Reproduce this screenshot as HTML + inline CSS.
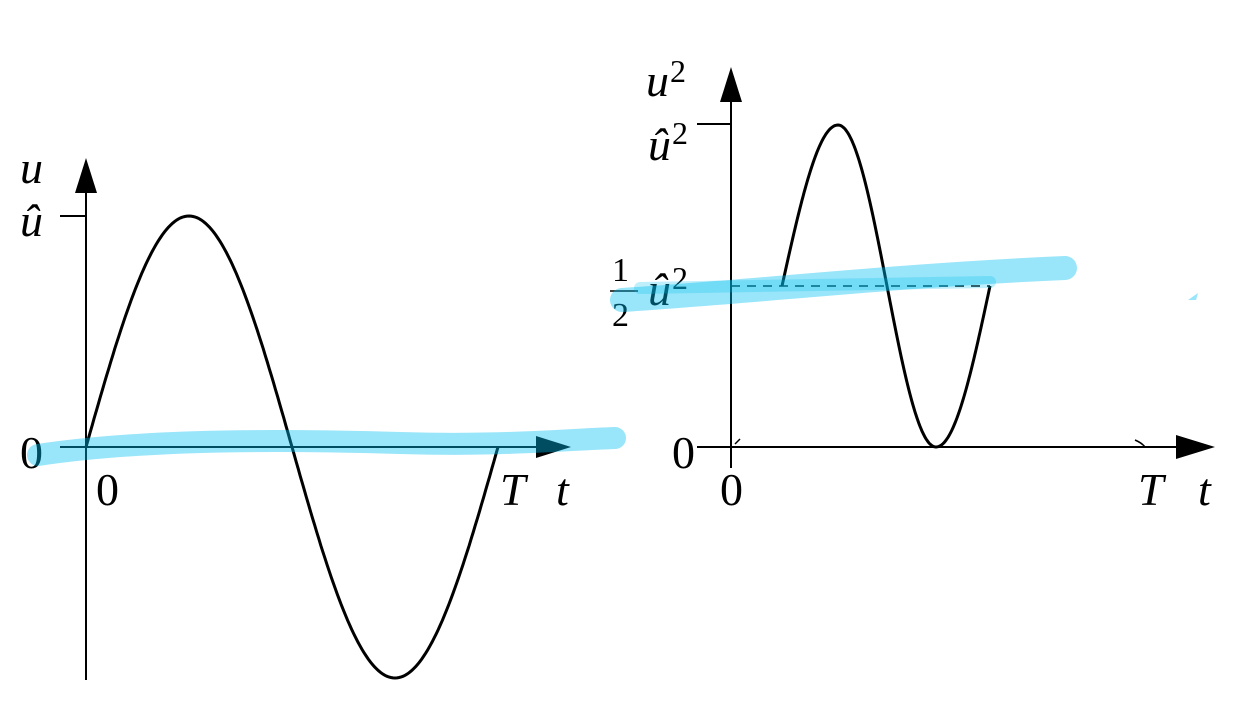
<!DOCTYPE html>
<html><head><meta charset="utf-8"><style>
html,body{margin:0;padding:0;background:#fff;}
svg{display:block}
text{font-family:"Liberation Serif",serif;font-size:46px;fill:#000}
.i{font-style:italic}
.s{font-size:32px}
</style></head><body>
<svg id="s" width="1239" height="720" viewBox="0 0 1239 720">
<g stroke="#000" stroke-width="2" fill="none">
<line x1="86" y1="185" x2="86" y2="680"/>
<line x1="60" y1="216" x2="86" y2="216"/>
<line x1="60" y1="447" x2="545" y2="447"/>
<line x1="731" y1="95" x2="731" y2="468"/>
<line x1="697" y1="124" x2="731" y2="124"/>
<line x1="697" y1="447" x2="1185" y2="447"/>
<line x1="731" y1="286" x2="990" y2="286" stroke-dasharray="9,7" stroke-width="1.5"/>
<path d="M735 444 L740 439 M1135 440 Q1142 443 1145 447" stroke-width="1.5"/>
<path id="p1" stroke-width="3"/>
<path id="p2" stroke-width="3"/>
</g>
<polygon points="75,193 97,193 86,158" fill="#000"/>
<polygon points="536,436 536,458 571,447" fill="#000"/>
<polygon points="720,102 742,102 731,67" fill="#000"/>
<polygon points="1176,435 1176,459 1215,447" fill="#000"/>
<text class="i" x="20" y="183">u</text>
<text class="i" x="20" y="236">û</text>
<text x="20" y="468">0</text>
<text x="96" y="505">0</text>
<text class="i" x="500" y="505">T</text>
<text class="i" x="556" y="505">t</text>
<text class="i" x="646" y="96">u</text><text x="670" y="82" class="s">2</text>
<text class="i" x="648" y="160">û</text><text x="672" y="144" class="s">2</text>
<text x="612" y="281" style="font-size:34px">1</text>
<line x1="610" y1="291" x2="638" y2="291" stroke="#000" stroke-width="1.5"/>
<text x="612" y="326" style="font-size:34px">2</text>
<text class="i" x="648" y="305">û</text><text x="672" y="289" class="s">2</text>
<text x="672" y="468">0</text>
<text x="720" y="505">0</text>
<text class="i" x="1138" y="505">T</text>
<text class="i" x="1198" y="505">t</text>
<g stroke="rgb(0,190,240)" stroke-opacity="0.4" stroke-linecap="round" fill="none">
<path d="M38 455 C150 438 300 440 400 443 S560 440 615 438" stroke-width="22"/>
<path d="M622 300 C750 292 900 275 1065 268" stroke-width="24"/>
<path d="M640 288 L990 282" stroke-width="12" stroke-opacity="0.25"/>
</g>
<path d="M1188 300 L1198 293 L1196 300 Z" fill="rgb(0,190,240)" fill-opacity="0.4"/>
</svg>
<script>
var a="";for(var i=0;i<=200;i++){var x=86+412*i/200;var y=447-231*Math.sin(2*Math.PI*i/200);a+=(i?"L":"M")+x.toFixed(1)+" "+y.toFixed(1);}
document.getElementById("p1").setAttribute("d",a);
var b="";function ph(x){if(x<=838)return (x-782)/56*Math.PI/2;if(x<=936)return Math.PI/2+(x-838)/98*Math.PI;return 1.5*Math.PI+(x-936)/54*Math.PI/2;}
for(var x=782;x<=990;x+=1){var y=286-161*Math.sin(ph(x));b+=(x==782?"M":"L")+x+" "+y.toFixed(1);}
document.getElementById("p2").setAttribute("d",b);
</script>
</body></html>
